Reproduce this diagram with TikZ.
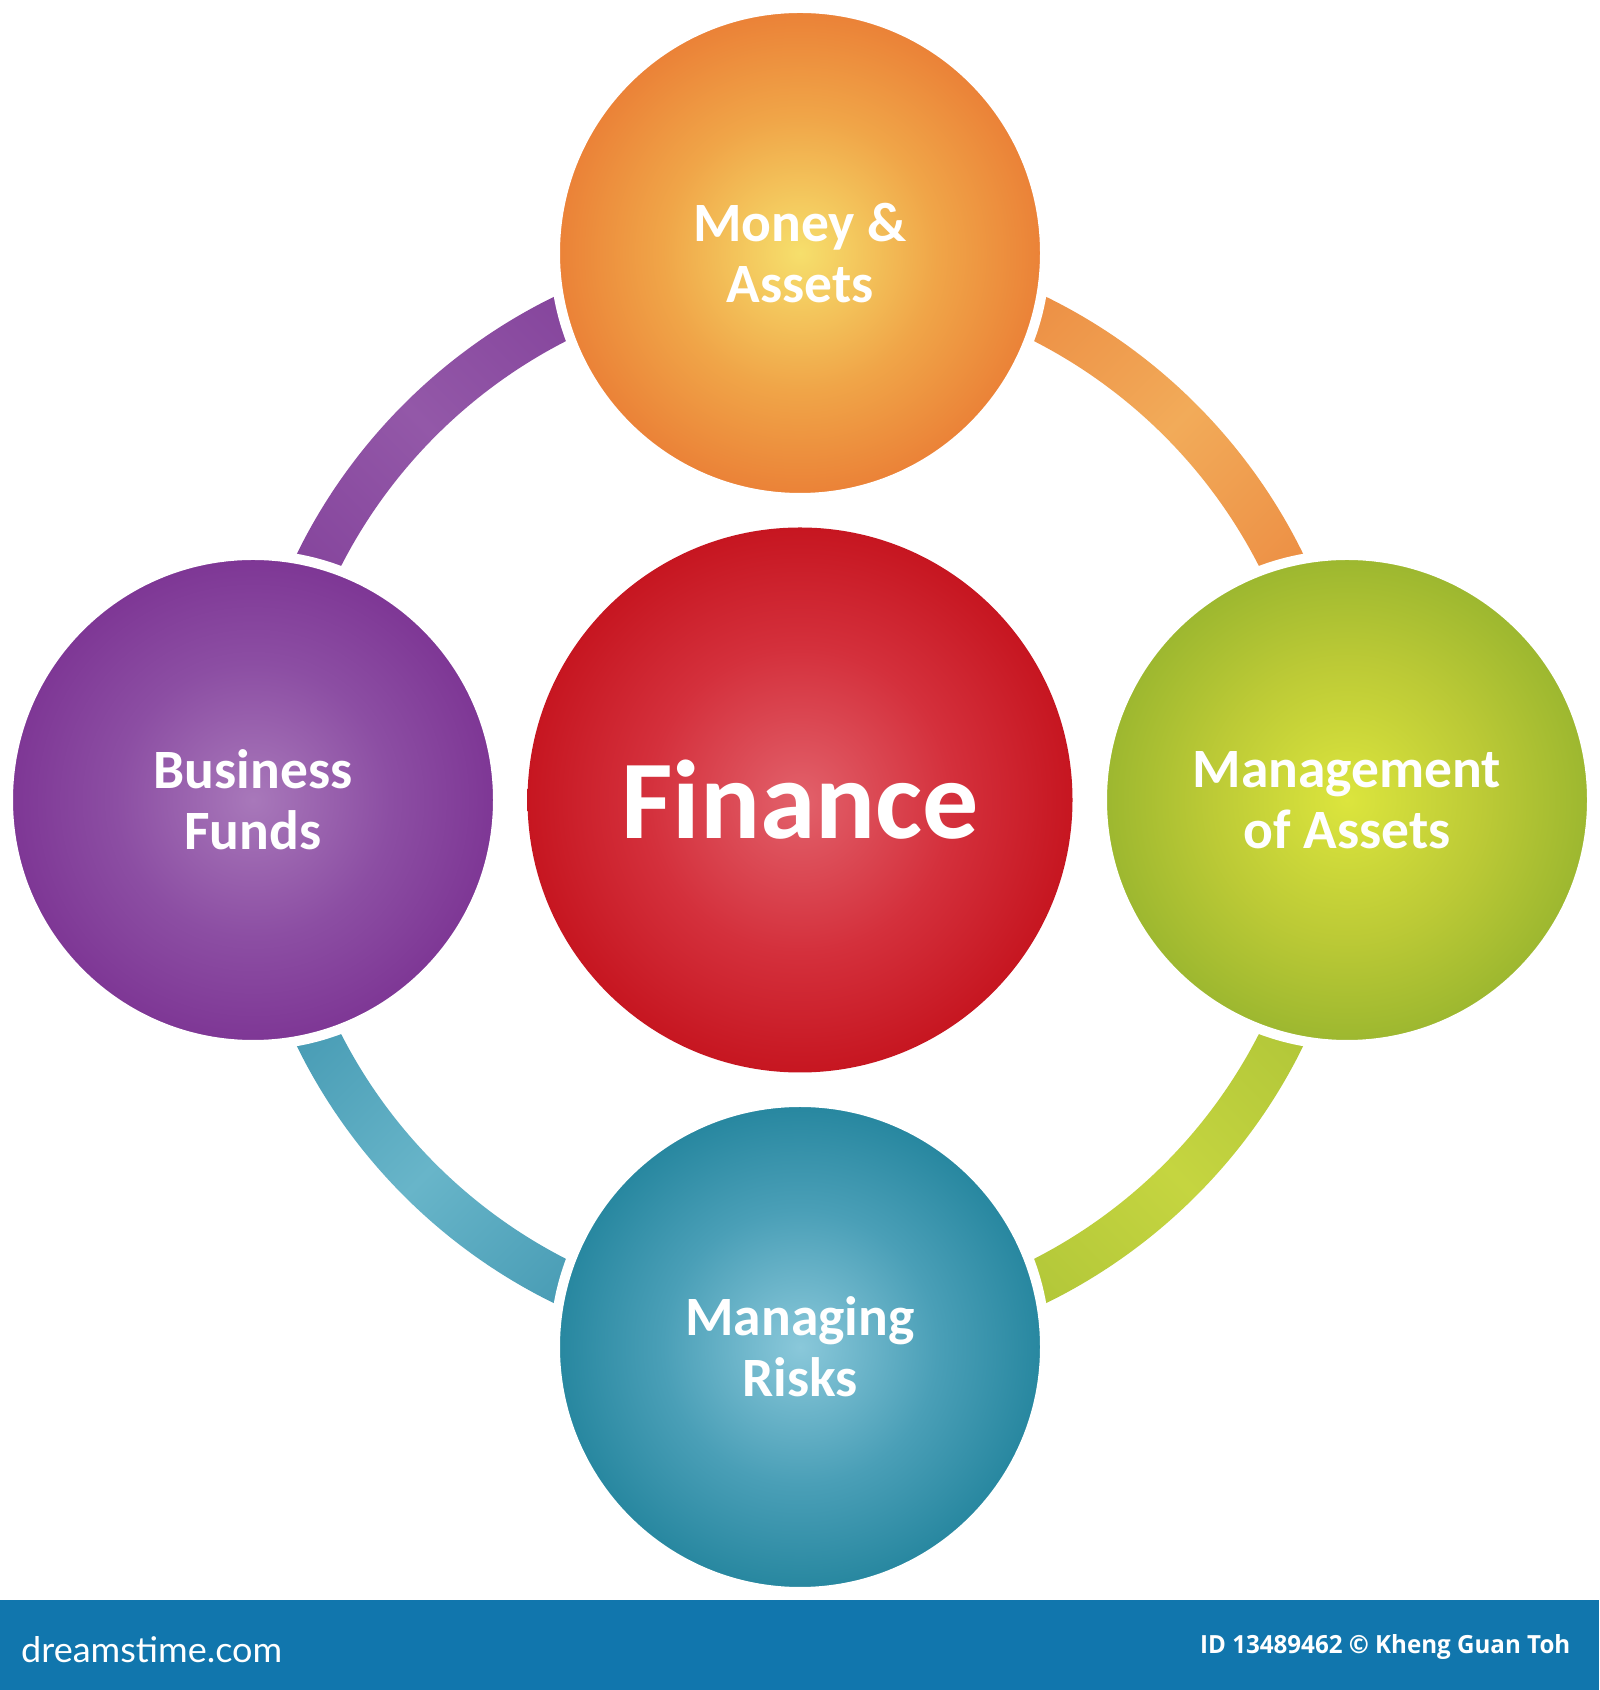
\documentclass[tikz,border=0pt]{standalone}
\usepackage{fontspec}
\usepackage{graphicx}
\setmainfont{Carlito}
\newfontfamily\barfont{Open Sans}
\newfontfamily\logofont{Lato}
\usetikzlibrary{calc}

% ball colours
\definecolor{oIn}{HTML}{F6DF6C}\definecolor{oMid}{HTML}{F0A548}\definecolor{oOut}{HTML}{E8702F}
\definecolor{pIn}{HTML}{A878BA}\definecolor{pMid}{HTML}{8C4EA3}\definecolor{pOut}{HTML}{772B8E}
\definecolor{rIn}{HTML}{E2616B}\definecolor{rMid}{HTML}{D4303C}\definecolor{rOut}{HTML}{C00A14}
\definecolor{gIn}{HTML}{DCE53D}\definecolor{gMid}{HTML}{BCCA36}\definecolor{gOut}{HTML}{8DAE2C}
\definecolor{tIn}{HTML}{8AC8DA}\definecolor{tMid}{HTML}{4A9FB7}\definecolor{tOut}{HTML}{167B94}
% ring colours
\definecolor{prE}{HTML}{7F3C97}\definecolor{prM}{HTML}{9358A8}
\definecolor{orE}{HTML}{EA823B}\definecolor{orM}{HTML}{F2AB59}
\definecolor{grE}{HTML}{A9C035}\definecolor{grM}{HTML}{C5D540}
\definecolor{trE}{HTML}{3990AB}\definecolor{trM}{HTML}{68B5C9}
\definecolor{barblue}{HTML}{1176AD}

% the shading's 50bp reaches the corners of the bounding box, so the circle's rim lies near 35bp
\pgfdeclareradialshading{ballO}{\pgfpoint{0bp}{0bp}}{color(0bp)=(oIn); color(14bp)=(oMid); color(30bp)=(oOut); color(50bp)=(oOut)}
\pgfdeclareradialshading{ballP}{\pgfpoint{0bp}{0bp}}{color(0bp)=(pIn); color(14bp)=(pMid); color(30bp)=(pOut); color(50bp)=(pOut)}
\pgfdeclareradialshading{ballR}{\pgfpoint{0bp}{0bp}}{color(0bp)=(rIn); color(14bp)=(rMid); color(30bp)=(rOut); color(50bp)=(rOut)}
\pgfdeclareradialshading{ballG}{\pgfpoint{0bp}{0bp}}{color(0bp)=(gIn); color(14bp)=(gMid); color(30bp)=(gOut); color(50bp)=(gOut)}
\pgfdeclareradialshading{ballT}{\pgfpoint{0bp}{0bp}}{color(0bp)=(tIn); color(14bp)=(tMid); color(30bp)=(tOut); color(50bp)=(tOut)}

\tikzset{
  ball/.style={circle, shade, minimum size=490pt, inner sep=0pt, draw=white, line width=10pt,
    text=white, align=center, font=\bfseries\fontsize{55.5}{61}\selectfont},
  hub/.style={circle, shade, shading=ballR, minimum size=545pt, inner sep=0pt,
    text=white, font=\bfseries\fontsize{112}{120}\selectfont},
  bartext/.style={inner sep=0pt, text=white},
}

\begin{document}
\begin{tikzpicture}[x=1pt,y=1pt]
\fill[white] (0,0) rectangle (1599,1690);
\useasboundingbox (0,0) rectangle (1599,1690);
\coordinate (O) at (800,890);

% ring segments
\path[top color=prE, bottom color=prE, middle color=prM, shading angle=-45]
  ([shift={(90:560)}]O) arc[start angle=90,end angle=180,radius=560]
  -- ([shift={(180:515)}]O) arc[start angle=180,end angle=90,radius=515] -- cycle;
\path[top color=orE, bottom color=orE, middle color=orM, shading angle=45]
  ([shift={(0:560)}]O) arc[start angle=0,end angle=90,radius=560]
  -- ([shift={(90:515)}]O) arc[start angle=90,end angle=0,radius=515] -- cycle;
\path[top color=grE, bottom color=grE, middle color=grM, shading angle=-45]
  ([shift={(270:560)}]O) arc[start angle=270,end angle=360,radius=560]
  -- ([shift={(0:515)}]O) arc[start angle=360,end angle=270,radius=515] -- cycle;
\path[top color=trE, bottom color=trE, middle color=trM, shading angle=45]
  ([shift={(180:560)}]O) arc[start angle=180,end angle=270,radius=560]
  -- ([shift={(270:515)}]O) arc[start angle=270,end angle=180,radius=515] -- cycle;

% circles
\node[hub] (C) at (O) {Finance};
\node[ball, shading=ballO] (top) at ($(O)+(0,547)$) {Money \&\\Assets};
\node[ball, shading=ballP] (left) at ($(O)+(-547,0)$) {Business\\Funds};
\node[ball, shading=ballG] (right) at ($(O)+(547,0)$) {Management\\of Assets};
\node[ball, shading=ballT] (bottom) at ($(O)+(0,-547)$) {Managing\\Risks};

% bottom bar
\fill[barblue] (0,0) rectangle (1599,90);
\node[bartext, anchor=base west] (logo) at (21,27) {\resizebox{261pt}{26pt}{\logofont dreamstime.com}};
\node[bartext, anchor=base west] (credit) at (1200,36) {\resizebox{370pt}{19pt}{\barfont\bfseries ID 13489462 © Kheng Guan Toh}};
\end{tikzpicture}
\end{document}
